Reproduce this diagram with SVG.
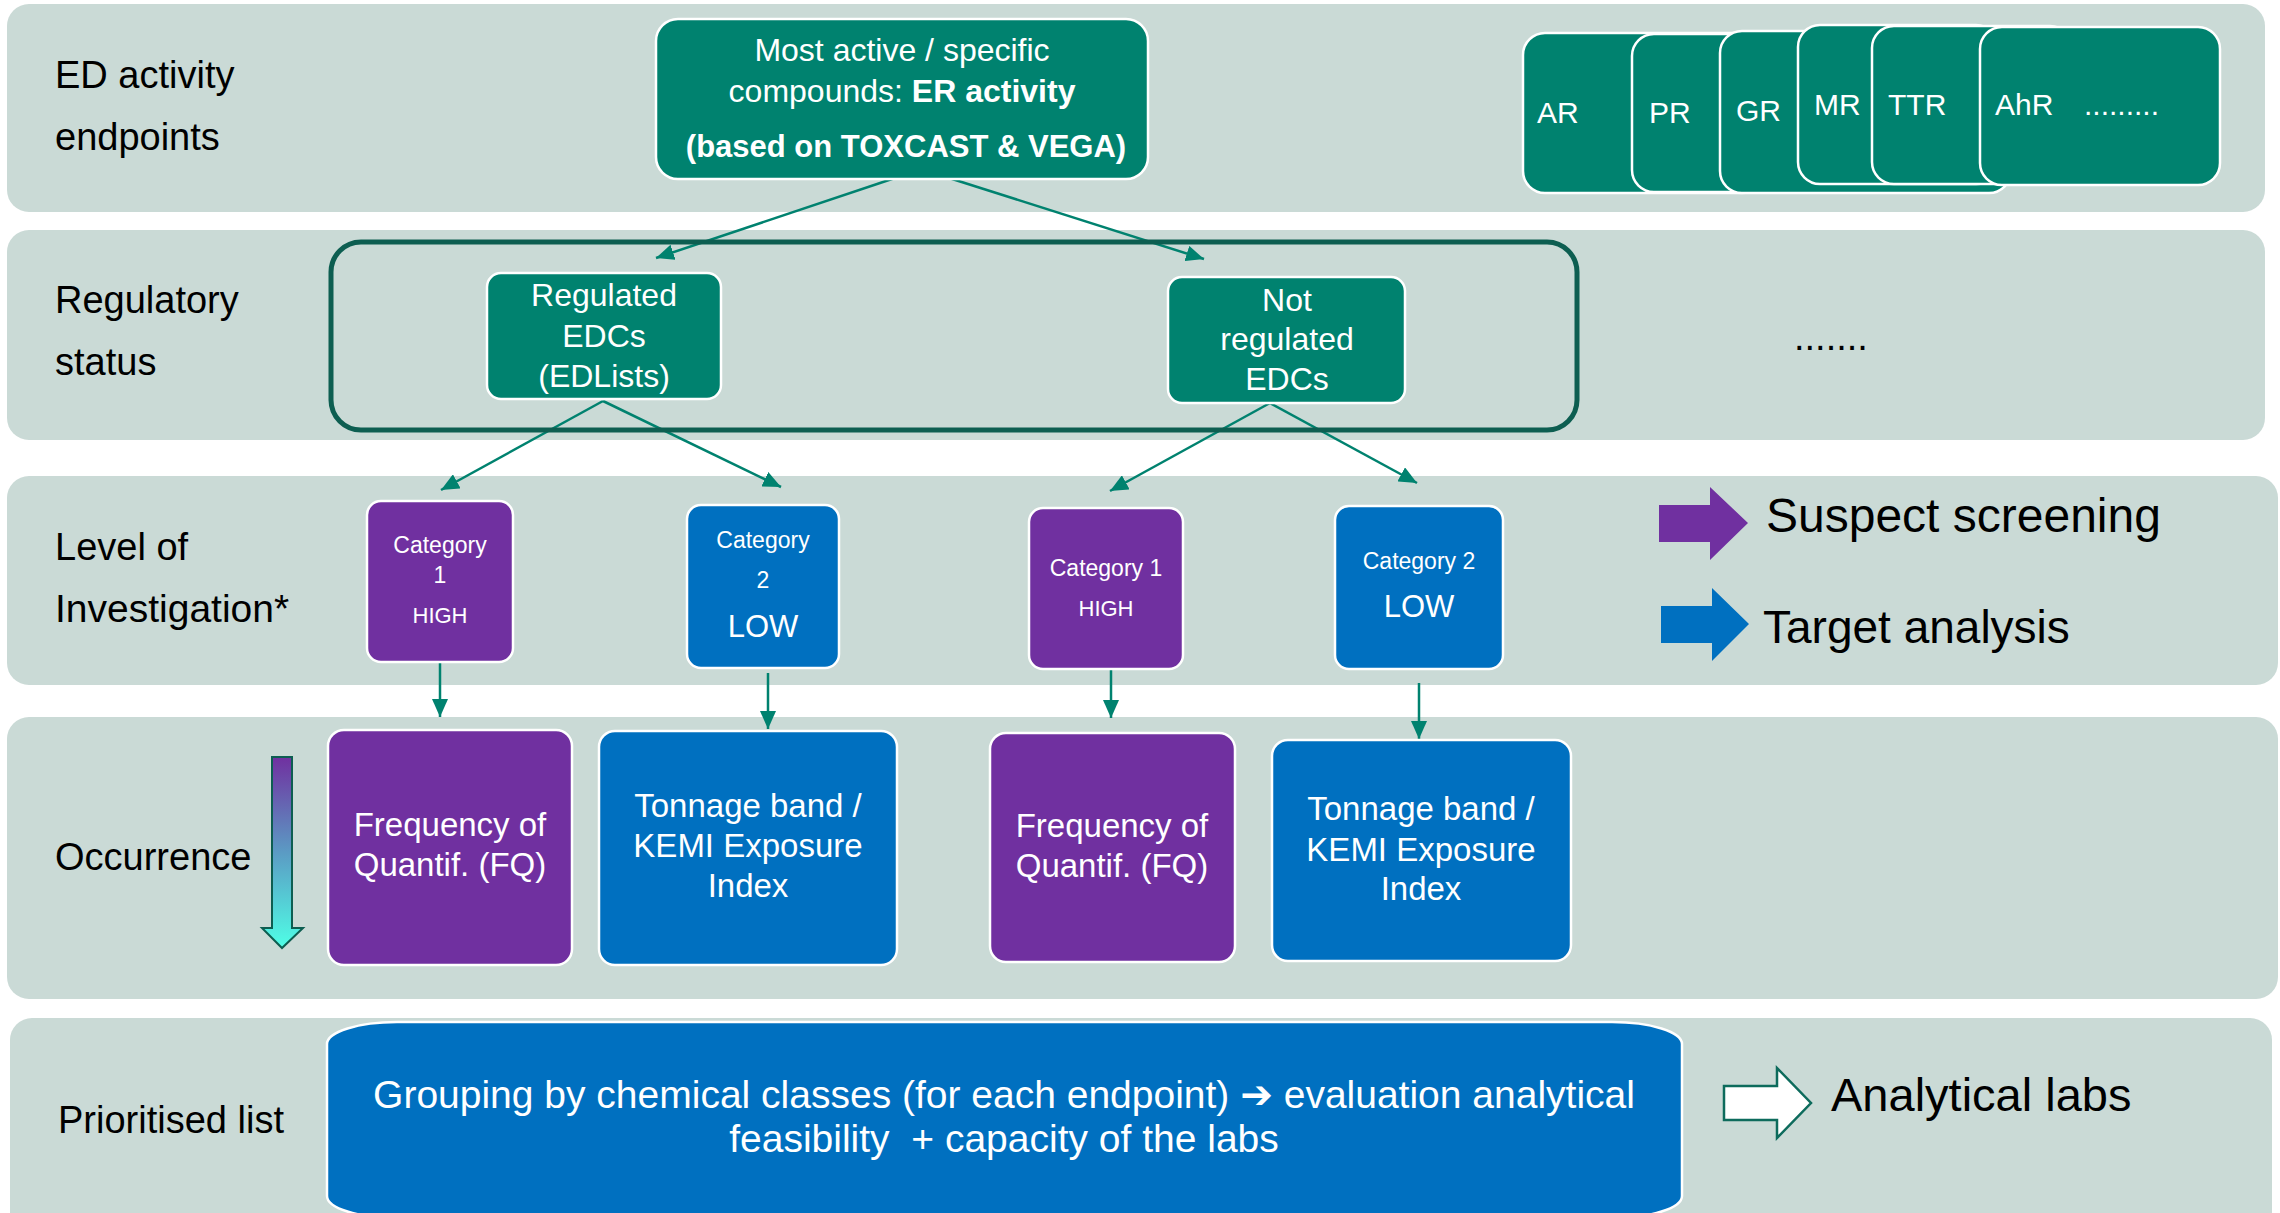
<svg xmlns="http://www.w3.org/2000/svg" width="2280" height="1213" viewBox="0 0 2280 1213">
<style>
.band{fill:#CADAD6}
.lbl{font-family:"Liberation Sans",Arial,sans-serif;font-size:38px;fill:#000}
.wt{font-family:"Liberation Sans",Arial,"DejaVu Sans",sans-serif;fill:#fff;text-anchor:middle}
.teal{fill:#00826F;stroke:#fff;stroke-width:2.5}
.purple{fill:#7030A0;stroke:#fff;stroke-width:2.5}
.blue{fill:#0070C0;stroke:#fff;stroke-width:2.5}
.card{fill:#00826F;stroke:#fff;stroke-width:2.5}
.ct{font-family:"Liberation Sans",Arial,sans-serif;fill:#fff;font-size:30px}
.conn{stroke:#00826F;stroke-width:2.5;fill:none}
</style>
<defs>
<marker id="ah" markerUnits="userSpaceOnUse" markerWidth="18" markerHeight="16" refX="18" refY="8" orient="auto">
<path d="M0,0 L18,8 L0,16 z" fill="#00826F"/>
</marker>
<linearGradient id="grad" x1="0" y1="0" x2="0" y2="1">
<stop offset="0" stop-color="#7030A0"/>
<stop offset="0.5" stop-color="#5B9BC4"/>
<stop offset="1" stop-color="#4FFFE6"/>
</linearGradient>
</defs>

<g id="bands">
<rect class="band" x="7" y="4" width="2258" height="208" rx="22"/>
<rect class="band" x="7" y="230" width="2258" height="210" rx="22"/>
<rect class="band" x="7" y="476" width="2271" height="209" rx="22"/>
<rect class="band" x="7" y="717" width="2271" height="282" rx="22"/>
<rect class="band" x="10" y="1018" width="2262" height="230" rx="22"/>
</g>

<g id="band-labels">
<text class="lbl" x="55" y="88">ED activity</text>
<text class="lbl" x="55" y="150">endpoints</text>
<text class="lbl" x="55" y="313">Regulatory</text>
<text class="lbl" x="55" y="375">status</text>
<text class="lbl" x="55" y="560">Level of</text>
<text class="lbl" x="55" y="622" style="font-size:39px">Investigation*</text>
<text class="lbl" x="55" y="870">Occurrence</text>
<text class="lbl" x="58" y="1133">Prioritised list</text>
</g>

<g id="connectors">
<line class="conn" x1="895" y1="178" x2="656" y2="258" marker-end="url(#ah)"/>
<line class="conn" x1="949" y1="178" x2="1204" y2="259" marker-end="url(#ah)"/>
<line class="conn" x1="603" y1="401" x2="441" y2="490" marker-end="url(#ah)"/>
<line class="conn" x1="603" y1="401" x2="781" y2="487" marker-end="url(#ah)"/>
<line class="conn" x1="1270" y1="403" x2="1110" y2="491" marker-end="url(#ah)"/>
<line class="conn" x1="1270" y1="403" x2="1417" y2="483" marker-end="url(#ah)"/>
<line class="conn" x1="440" y1="662" x2="440" y2="717" marker-end="url(#ah)"/>
<line class="conn" x1="768" y1="673" x2="768" y2="729" marker-end="url(#ah)"/>
<line class="conn" x1="1111" y1="667" x2="1111" y2="718" marker-end="url(#ah)"/>
<line class="conn" x1="1419" y1="683" x2="1419" y2="739" marker-end="url(#ah)"/>
</g>

<g id="node-top">
<rect class="teal" x="656" y="19" width="492" height="160" rx="22"/>
<text class="wt" x="902" y="61" font-size="32">Most active / specific</text>
<text class="wt" x="902" y="102" font-size="32">compounds: <tspan font-weight="bold">ER activity</tspan></text>
<text class="wt" x="906" y="157" font-size="31" font-weight="bold">(based on TOXCAST &amp; VEGA)</text>
</g>

<g id="node-endpoint-cards">
<rect class="card" x="1523" y="33" width="240" height="160" rx="22"/>
<rect class="card" x="1632" y="34" width="323" height="158" rx="22"/>
<rect class="card" x="1720" y="31" width="291" height="162" rx="22"/>
<rect class="card" x="1798" y="25" width="200" height="159" rx="22"/>
<rect class="card" x="1872" y="26" width="200" height="158" rx="22"/>
<rect class="card" x="1980" y="27" width="240" height="158" rx="22"/>
<text class="ct" x="1537" y="123">AR</text>
<text class="ct" x="1649" y="123">PR</text>
<text class="ct" x="1736" y="121">GR</text>
<text class="ct" x="1814" y="115">MR</text>
<text class="ct" x="1888" y="115">TTR</text>
<text class="ct" x="1995" y="115">AhR</text>
<text class="ct" x="2084" y="115">.........</text>
</g>

<g id="node-regulatory-group">
<rect x="331" y="242" width="1246" height="188" rx="30" fill="none" stroke="#0D5E51" stroke-width="5"/>
</g>

<g id="node-regulated">
<rect class="teal" x="487" y="273" width="234" height="126" rx="14"/>
<text class="wt" x="604" y="306" font-size="32">Regulated</text>
<text class="wt" x="604" y="347" font-size="32">EDCs</text>
<text class="wt" x="604" y="387" font-size="32">(EDLists)</text>
</g>

<g id="node-not-regulated">
<rect class="teal" x="1168" y="277" width="237" height="126" rx="14"/>
<text class="wt" x="1287" y="311" font-size="32">Not</text>
<text class="wt" x="1287" y="350" font-size="32">regulated</text>
<text class="wt" x="1287" y="390" font-size="32">EDCs</text>
</g>

<g id="node-dots">
<text class="lbl" x="1794" y="350">.......</text>
</g>

<g id="node-cat1-left">
<rect class="purple" x="367" y="501" width="146" height="161" rx="14"/>
<text class="wt" x="440" y="553" font-size="23">Category</text>
<text class="wt" x="440" y="583" font-size="23">1</text>
<text class="wt" x="440" y="623" font-size="22">HIGH</text>
</g>

<g id="node-cat2-left">
<rect class="blue" x="687" y="505" width="152" height="163" rx="14"/>
<text class="wt" x="763" y="548" font-size="23">Category</text>
<text class="wt" x="763" y="588" font-size="23">2</text>
<text class="wt" x="763" y="637" font-size="31">LOW</text>
</g>

<g id="node-cat1-right">
<rect class="purple" x="1029" y="508" width="154" height="161" rx="14"/>
<text class="wt" x="1106" y="576" font-size="23">Category 1</text>
<text class="wt" x="1106" y="616" font-size="22">HIGH</text>
</g>

<g id="node-cat2-right">
<rect class="blue" x="1335" y="506" width="168" height="163" rx="14"/>
<text class="wt" x="1419" y="569" font-size="23">Category 2</text>
<text class="wt" x="1419" y="617" font-size="31">LOW</text>
</g>

<g id="legend">
<polygon points="1659,505 1710,505 1710,487 1748,523 1710,560 1710,542 1659,542" fill="#7030A0"/>
<polygon points="1661,606 1712,606 1712,588 1749,624 1712,661 1712,643 1661,643" fill="#0070C0"/>
<text class="lbl" x="1766" y="532" style="font-size:48px">Suspect screening</text>
<text class="lbl" x="1763" y="643" style="font-size:46px">Target analysis</text>
</g>

<g id="occurrence-arrow">
<polygon points="272,757 292,757 292,928 303,928 282,948 262,928 272,928" fill="url(#grad)" stroke="#0D5E51" stroke-width="2"/>
</g>

<g id="node-fq-left">
<rect class="purple" x="328" y="730" width="244" height="235" rx="16"/>
<text class="wt" x="450" y="836" font-size="33">Frequency of</text>
<text class="wt" x="450" y="876" font-size="33">Quantif. (FQ)</text>
</g>

<g id="node-tonnage-left">
<rect class="blue" x="599" y="731" width="298" height="234" rx="16"/>
<text class="wt" x="748" y="817" font-size="33">Tonnage band /</text>
<text class="wt" x="748" y="857" font-size="33">KEMI Exposure</text>
<text class="wt" x="748" y="897" font-size="33">Index</text>
</g>

<g id="node-fq-right">
<rect class="purple" x="990" y="733" width="245" height="229" rx="16"/>
<text class="wt" x="1112" y="837" font-size="33">Frequency of</text>
<text class="wt" x="1112" y="877" font-size="33">Quantif. (FQ)</text>
</g>

<g id="node-tonnage-right">
<rect class="blue" x="1272" y="740" width="299" height="221" rx="16"/>
<text class="wt" x="1421" y="820" font-size="33">Tonnage band /</text>
<text class="wt" x="1421" y="861" font-size="33">KEMI Exposure</text>
<text class="wt" x="1421" y="900" font-size="33">Index</text>
</g>

<g id="node-grouping">
<rect class="blue" x="327" y="1022" width="1355" height="196" rx="70" ry="22"/>
<text class="wt" x="1004" y="1108" font-size="39">Grouping by chemical classes (for each endpoint) <tspan font-family="'DejaVu Sans',sans-serif" font-weight="bold">➔</tspan> evaluation analytical</text>
<text class="wt" x="1004" y="1152" font-size="39" style="white-space:pre">feasibility  + capacity of the labs</text>
</g>

<g id="node-analytical-labs">
<polygon points="1724,1086 1777,1086 1777,1068 1811,1103 1777,1138 1777,1120 1724,1120" fill="#fff" stroke="#0D6B5C" stroke-width="2.5"/>
<text class="lbl" x="1831" y="1111" style="font-size:47px">Analytical labs</text>
</g>
</svg>
